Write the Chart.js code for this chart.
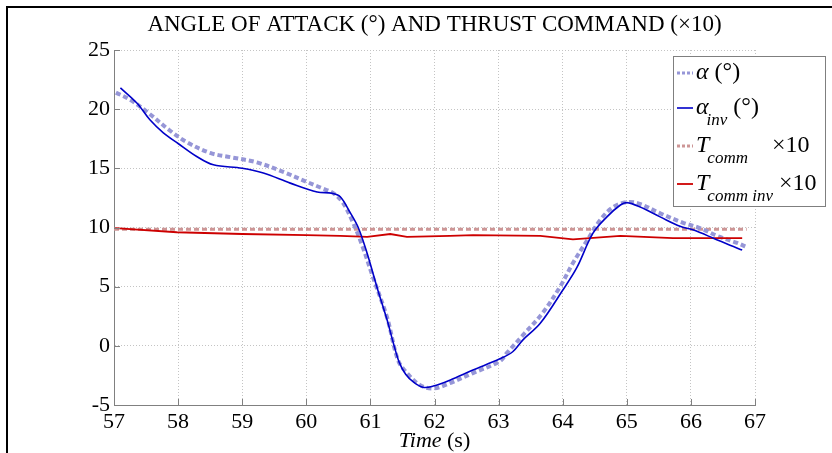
<!DOCTYPE html>
<html lang="en">
<head>
    <meta charset="UTF-8">
    <title>Angle of attack and thrust command</title>
    <script src="https://cdn.jsdelivr.net/npm/chart.js@4/dist/chart.umd.min.js"></script>
    <style>
        body { margin: 0; background: #fff; }
        canvas { display: block; }
    </style>
</head>
<body>
    <canvas id="aoaChart" width="832" height="453"></canvas>
    <script>
        // Flight record, time in seconds
        const alphaTime = [57.03, 57.25, 57.51, 57.87, 58.14, 58.5, 58.81, 59.23, 59.64, 60.01, 60.21, 60.42, 60.57, 60.73, 60.88, 61.04, 61.26, 61.43, 61.57, 61.77, 61.98, 62.24, 62.6, 63.02, 63.13, 63.38, 63.69, 63.96, 64.16, 64.38, 64.58, 64.78, 65.0, 65.2, 65.52, 65.88, 66.14, 66.45, 66.72, 66.87];
        const alpha = [21.4, 20.8, 19.8, 18.2, 17.2, 16.3, 15.95, 15.5, 14.7, 13.85, 13.4, 12.9, 12.1, 10.4, 8.35, 5.8, 2.4, -1.2, -2.3, -3.3, -3.6, -3.15, -2.3, -1.3, -0.6, 0.9, 2.8, 5.0, 7.0, 8.9, 10.6, 11.7, 12.15, 12.0, 11.2, 10.4, 9.95, 9.2, 8.7, 8.35];

        const alphaInvTime = [57.1, 57.36, 57.56, 57.77, 58.0, 58.29, 58.55, 59.0, 59.33, 59.75, 60.17, 60.4, 60.53, 60.68, 60.81, 60.95, 61.1, 61.26, 61.36, 61.45, 61.55, 61.67, 61.82, 61.98, 62.24, 62.6, 63.02, 63.22, 63.38, 63.65, 64.0, 64.22, 64.47, 64.69, 64.9, 65.0, 65.2, 65.52, 65.83, 66.03, 66.35, 66.61, 66.8];
        const alphaInv = [21.8, 20.5, 19.1, 18.0, 17.1, 16.0, 15.3, 15.0, 14.6, 13.75, 13.0, 12.9, 12.6, 11.3, 10.0, 7.8, 5.0, 2.2, 0.2, -1.4, -2.4, -3.05, -3.5, -3.4, -2.9, -2.05, -1.1, -0.5, 0.5, 1.9, 4.7, 6.6, 9.5, 10.9, 11.9, 12.1, 11.75, 10.9, 10.1, 9.8, 9.1, 8.5, 8.1];

        const thrustTime = [57.0, 66.87];
        const thrust = [9.85, 9.85];

        const thrustInvTime = [57.02, 57.98, 59.0, 60.0, 60.53, 60.95, 61.31, 61.57, 62.24, 62.6, 63.65, 64.16, 64.9, 65.72, 66.8];
        const thrustInv = [9.95, 9.6, 9.45, 9.35, 9.3, 9.2, 9.45, 9.2, 9.3, 9.35, 9.3, 9.0, 9.3, 9.1, 9.1];

        const xTicks = [57, 58, 59, 60, 61, 62, 63, 64, 65, 66, 67];
        const yTicks = [-5, 0, 5, 10, 15, 20, 25];

        const chartTitle = 'ANGLE OF ATTACK (\u00b0) AND THRUST COMMAND (\u00d710)';
        // legend text: symbol (italic), subscript (italic), trailing text (upright)
        const legendText = [
            ['\u03b1', '', ' (\u00b0)'],
            ['\u03b1', 'inv', ' (\u00b0)'],
            ['T', 'comm', '    \u00d710'],
            ['T', 'comm inv', ' \u00d710']
        ];

        const SERIF = '"Liberation Serif", "Times New Roman", serif';

        function pts(xs, ys) {
            return xs.map((x, i) => ({ x: x, y: ys[i] }));
        }

        const decorations = {
            id: 'decorations',
            afterDraw(chart) {
                const ctx = chart.ctx;
                const area = chart.chartArea;
                const xs = chart.scales.x, ys = chart.scales.y;
                ctx.save();

                // figure frame
                ctx.fillStyle = '#000';
                ctx.fillRect(6, 6, 826, 2);
                ctx.fillRect(6, 6, 2, 447);

                // title
                ctx.font = '23px ' + SERIF;
                ctx.textAlign = 'center';
                ctx.textBaseline = 'middle';
                ctx.fillText(chartTitle, (area.left + area.right) / 2, 25);

                // inward tick marks
                ctx.strokeStyle = '#808080';
                ctx.lineWidth = 1;
                ctx.beginPath();
                xTicks.forEach(v => {
                    const px = Math.round(xs.getPixelForValue(v)) + 0.5;
                    ctx.moveTo(px, area.bottom);
                    ctx.lineTo(px, area.bottom - 6);
                });
                yTicks.forEach(v => {
                    const py = Math.round(ys.getPixelForValue(v)) + 0.5;
                    ctx.moveTo(area.left, py);
                    ctx.lineTo(area.left + 6, py);
                });
                ctx.stroke();

                // x axis title: italic "Time" + upright "(s)"
                ctx.textAlign = 'left';
                ctx.textBaseline = 'alphabetic';
                ctx.fillStyle = '#000';
                const it = 'italic 22px ' + SERIF, up = '22px ' + SERIF;
                ctx.font = it;
                const w1 = ctx.measureText('Time').width;
                ctx.font = up;
                const w2 = ctx.measureText(' (s)').width;
                let tx = (area.left + area.right) / 2 - (w1 + w2) / 2;
                ctx.font = it;
                ctx.fillText('Time', tx, 447);
                ctx.font = up;
                ctx.fillText(' (s)', tx + w1, 447);

                // legend box
                const box = { left: 673.5, top: 56.5, right: 825.5, bottom: 206.5 };
                ctx.fillStyle = '#fff';
                ctx.fillRect(box.left, box.top, box.right - box.left, box.bottom - box.top);
                ctx.strokeStyle = '#7f7f7f';
                ctx.lineWidth = 1;
                ctx.strokeRect(box.left, box.top, box.right - box.left, box.bottom - box.top);

                const rows = [73, 108, 146, 184];
                chart.data.datasets.forEach((ds, i) => {
                    const y = rows[i];
                    ctx.save();
                    ctx.strokeStyle = ds.borderColor;
                    ctx.lineWidth = Math.min(ds.borderWidth, 3);
                    ctx.setLineDash(ds.borderDash ? [3, 2] : []);
                    ctx.beginPath();
                    ctx.moveTo(677, y);
                    ctx.lineTo(693, y);
                    ctx.stroke();
                    ctx.restore();

                    const [sym, sub, tail] = legendText[i];
                    let x = 696;
                    ctx.fillStyle = '#000';
                    ctx.textBaseline = 'middle';
                    ctx.font = 'italic 24px ' + SERIF;
                    ctx.fillText(sym, x, y);
                    x += ctx.measureText(sym).width;
                    if (sub) {
                        ctx.font = 'italic 17px ' + SERIF;
                        ctx.fillText(sub, x - 2, y + 13);
                        x += ctx.measureText(sub).width - 2;
                    }
                    ctx.font = '24px ' + SERIF;
                    ctx.fillText(tail, x, y);
                });
                ctx.restore();
            }
        };

        new Chart(document.getElementById('aoaChart'), {
            type: 'line',
            data: {
                datasets: [
                    {
                        label: 'alpha',
                        data: pts(alphaTime, alpha),
                        borderColor: 'rgb(150,150,215)',
                        borderWidth: 4,
                        borderDash: [5, 3],
                        tension: 0.35,
                        order: 1
                    },
                    {
                        label: 'alpha inv',
                        data: pts(alphaInvTime, alphaInv),
                        borderColor: 'rgb(0,0,200)',
                        borderWidth: 1.6,
                        tension: 0.35,
                        order: 0
                    },
                    {
                        label: 'T comm x10',
                        data: pts(thrustTime, thrust),
                        borderColor: 'rgb(205,150,150)',
                        borderWidth: 3,
                        borderDash: [5, 3],
                        order: 1
                    },
                    {
                        label: 'T comm inv x10',
                        data: pts(thrustInvTime, thrustInv),
                        borderColor: 'rgb(205,0,0)',
                        borderWidth: 1.8,
                        tension: 0,
                        order: 0
                    }
                ]
            },
            options: {
                responsive: false,
                animation: false,
                devicePixelRatio: 1,
                layout: { padding: { left: 0, top: 50, right: 77, bottom: 0 } },
                elements: { point: { radius: 0 } },
                plugins: {
                    legend: { display: false },
                    title: { display: false },
                    tooltip: { enabled: false }
                },
                scales: {
                    x: {
                        type: 'linear',
                        min: 57,
                        max: 67,
                        afterBuildTicks: s => { s.ticks = xTicks.map(v => ({ value: v })); },
                        afterFit: s => { s.height = 48; },
                        grid: { color: '#c4c4c4', drawTicks: false },
                        border: { color: '#808080', width: 1, dash: [1, 2] },
                        ticks: { color: '#000', padding: 4, maxRotation: 0, font: { family: SERIF, size: 22 } }
                    },
                    y: {
                        min: -5,
                        max: 25,
                        afterBuildTicks: s => { s.ticks = yTicks.map(v => ({ value: v })); },
                        afterFit: s => { s.width = 114; },
                        grid: { color: '#c4c4c4', drawTicks: false },
                        border: { color: '#808080', width: 1, dash: [1, 2] },
                        ticks: { color: '#000', padding: 4, font: { family: SERIF, size: 22 } }
                    }
                }
            },
            plugins: [decorations]
        });
    </script>
</body>
</html>
